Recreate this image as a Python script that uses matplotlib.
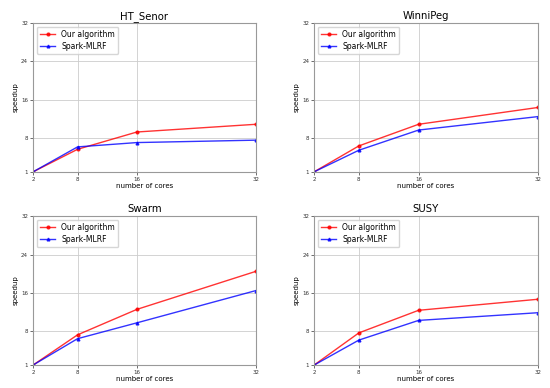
import matplotlib.pyplot as plt

cores = [2, 8, 16, 32]
titulos = ['HT_Senor', 'WinniPeg', 'Swarm', 'SUSY']

# speedup
nuestro = {
    'HT_Senor': [1, 5.7, 9.3, 10.9],
    'WinniPeg': [1, 6.4, 10.9, 14.4],
    'Swarm': [1, 7.3, 12.6, 20.5],
    'SUSY': [1, 7.7, 12.4, 14.7],
}
spark = {
    'HT_Senor': [1, 6.2, 7.1, 7.6],
    'WinniPeg': [1, 5.5, 9.7, 12.5],
    'Swarm': [1, 6.5, 9.8, 16.5],
    'SUSY': [1, 6.2, 10.3, 11.9],
}
yticks = [1, 8, 16, 24, 32]

fig = plt.figure(figsize=(5.5, 3.88), dpi=100)
posiciones = [
    [0.06, 0.557, 0.405, 0.384],
    [0.571, 0.557, 0.407, 0.384],
    [0.06, 0.059, 0.405, 0.384],
    [0.571, 0.059, 0.407, 0.384],
]

for titulo, pos in zip(titulos, posiciones):
    ax = fig.add_axes(pos)
    ax.plot(cores, nuestro[titulo], '-', color='red', marker='o', ms=2,
            lw=1, alpha=0.8, label='Our algorithm')
    ax.plot(cores, spark[titulo], '-', color='blue', marker='^', ms=2,
            lw=1, alpha=0.8, label='Spark-MLRF')
    ax.set_xlim(2, 32)
    ax.set_ylim(1, 32)
    ax.set_xticks(cores)
    ax.set_yticks(yticks)
    ax.tick_params(labelsize=4, length=2, width=0.5, pad=1.5, colors='#333333')
    ax.grid(True, color='#cccccc', lw=0.6)
    for s in ax.spines.values():
        s.set_color('#999999')
        s.set_linewidth(0.8)
    ax.set_title(titulo, fontsize=7.3, pad=3)
    ax.set_xlabel('number of cores', fontsize=5, labelpad=1)
    ax.set_ylabel('speedup', fontsize=5, labelpad=2)
    ax.legend(loc='upper left', fontsize=5.5, handlelength=2, borderpad=0.4,
              labelspacing=0.4, framealpha=0.8)

plt.savefig('out.png', dpi=100)
